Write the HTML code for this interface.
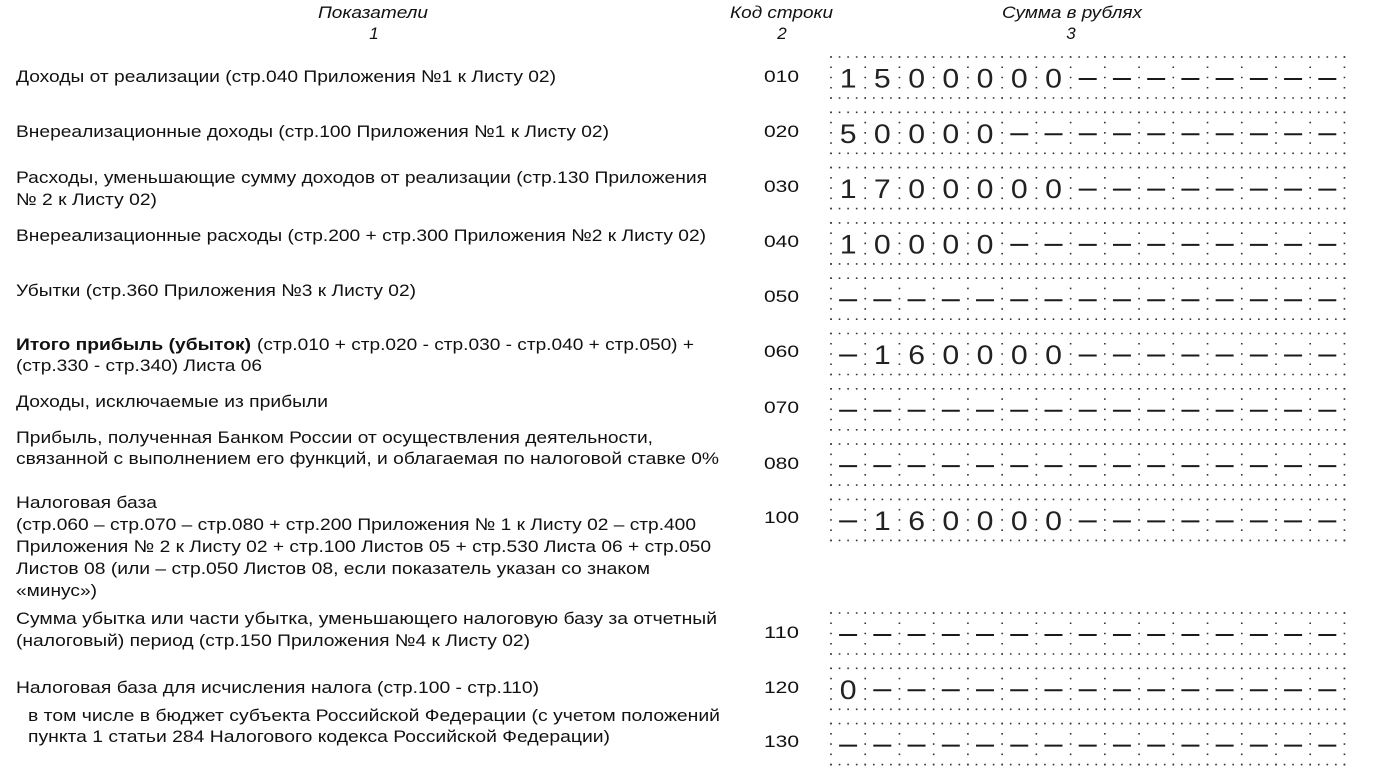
<!DOCTYPE html>
<html>
<head>
<meta charset="utf-8">
<style>
html,body{margin:0;padding:0;background:#fff;}
svg{display:block;}
.t{font-family:"Liberation Sans",Arial,sans-serif;font-size:17px;fill:#111;}
.h{font-family:"Liberation Sans",Arial,sans-serif;font-size:17px;font-style:italic;fill:#111;}
.c{font-family:"Liberation Sans",Arial,sans-serif;font-size:17px;fill:#111;}
.d{font-family:"Liberation Sans",Arial,sans-serif;font-size:27px;fill:#222;}
</style>
</head>
<body>
<svg width="1400" height="768" viewBox="0 0 1400 768" xmlns="http://www.w3.org/2000/svg">
<rect width="1400" height="768" fill="#fff"/>
<defs>
<g id="box">
<path d="M-0.8 0 H514.2 M-0.8 41 H514.2" stroke="#333" stroke-width="1.6" stroke-dasharray="1.6 6.957" fill="none"/>
<path d="M0 -0.8 V41.8 M34.23 -0.8 V41.8 M68.46 -0.8 V41.8 M102.69 -0.8 V41.8 M136.92 -0.8 V41.8 M171.15 -0.8 V41.8 M205.38 -0.8 V41.8 M239.61 -0.8 V41.8 M273.84 -0.8 V41.8 M308.07 -0.8 V41.8 M342.3 -0.8 V41.8 M376.53 -0.8 V41.8 M410.76 -0.8 V41.8 M444.99 -0.8 V41.8 M479.22 -0.8 V41.8 M513.45 -0.8 V41.8" stroke="#333" stroke-width="1.6" stroke-dasharray="1.6 8.65" fill="none"/>
</g>
</defs>

<!-- Header -->
<text class="h" x="318" y="18" textLength="110" lengthAdjust="spacingAndGlyphs">Показатели</text>
<text class="h" x="374" y="39" text-anchor="middle">1</text>
<text class="h" x="730" y="18" textLength="103" lengthAdjust="spacingAndGlyphs">Код строки</text>
<text class="h" x="782" y="39" text-anchor="middle">2</text>
<text class="h" x="1002" y="18" textLength="140" lengthAdjust="spacingAndGlyphs">Сумма в рублях</text>
<text class="h" x="1071" y="39" text-anchor="middle">3</text>

<!-- Left column text -->
<text class="t" x="16" y="82" textLength="540" lengthAdjust="spacingAndGlyphs">Доходы от реализации (стр.040 Приложения №1 к Листу 02)</text>
<text class="t" x="16" y="137" textLength="593" lengthAdjust="spacingAndGlyphs">Внереализационные доходы (стр.100 Приложения №1 к Листу 02)</text>
<text class="t" x="16" y="183" textLength="691" lengthAdjust="spacingAndGlyphs">Расходы, уменьшающие сумму доходов от реализации (стр.130 Приложения</text>
<text class="t" x="16" y="205" textLength="141" lengthAdjust="spacingAndGlyphs">№ 2 к Листу 02)</text>
<text class="t" x="16" y="241" textLength="690" lengthAdjust="spacingAndGlyphs">Внереализационные расходы (стр.200 + стр.300 Приложения №2 к Листу 02)</text>
<text class="t" x="16" y="296" textLength="400" lengthAdjust="spacingAndGlyphs">Убытки (стр.360 Приложения №3 к Листу 02)</text>
<text class="t" x="16" y="350" textLength="235" lengthAdjust="spacingAndGlyphs" font-weight="bold">Итого прибыль (убыток)</text>
<text class="t" x="257" y="350" textLength="437" lengthAdjust="spacingAndGlyphs">(стр.010 + стр.020 - стр.030 - стр.040 + стр.050) +</text>
<text class="t" x="16" y="371" textLength="246" lengthAdjust="spacingAndGlyphs">(стр.330 - стр.340) Листа 06</text>
<text class="t" x="16" y="407" textLength="312" lengthAdjust="spacingAndGlyphs">Доходы, исключаемые из прибыли</text>
<text class="t" x="16" y="443" textLength="637" lengthAdjust="spacingAndGlyphs">Прибыль, полученная Банком России от осуществления деятельности,</text>
<text class="t" x="16" y="464" textLength="703" lengthAdjust="spacingAndGlyphs">связанной с выполнением его функций, и облагаемая по налоговой ставке 0%</text>
<text class="t" x="16" y="508" textLength="141" lengthAdjust="spacingAndGlyphs">Налоговая база</text>
<text class="t" x="16" y="530" textLength="680" lengthAdjust="spacingAndGlyphs">(стр.060 – стр.070 – стр.080 + стр.200 Приложения № 1 к Листу 02 – стр.400</text>
<text class="t" x="16" y="552" textLength="695" lengthAdjust="spacingAndGlyphs">Приложения № 2 к Листу 02 + стр.100 Листов 05 + стр.530 Листа 06 + стр.050</text>
<text class="t" x="16" y="574" textLength="634" lengthAdjust="spacingAndGlyphs">Листов 08 (или – стр.050 Листов 08, если показатель указан со знаком</text>
<text class="t" x="16" y="596" textLength="81" lengthAdjust="spacingAndGlyphs">«минус»)</text>
<text class="t" x="16" y="624" textLength="701" lengthAdjust="spacingAndGlyphs">Сумма убытка или части убытка, уменьшающего налоговую базу за отчетный</text>
<text class="t" x="16" y="646" textLength="514" lengthAdjust="spacingAndGlyphs">(налоговый) период (стр.150 Приложения №4 к Листу 02)</text>
<text class="t" x="16" y="693" textLength="523" lengthAdjust="spacingAndGlyphs">Налоговая база для исчисления налога (стр.100 - стр.110)</text>
<text class="t" x="28" y="721" textLength="692" lengthAdjust="spacingAndGlyphs">в том числе в бюджет субъекта Российской Федерации (с учетом положений</text>
<text class="t" x="28" y="742" textLength="582" lengthAdjust="spacingAndGlyphs">пункта 1 статьи 284 Налогового кодекса Российской Федерации)</text>

<!-- Codes -->
<text class="c" x="764" y="82" textLength="35" lengthAdjust="spacingAndGlyphs">010</text>
<text class="c" x="764" y="137" textLength="35" lengthAdjust="spacingAndGlyphs">020</text>
<text class="c" x="764" y="192" textLength="35" lengthAdjust="spacingAndGlyphs">030</text>
<text class="c" x="764" y="247" textLength="35" lengthAdjust="spacingAndGlyphs">040</text>
<text class="c" x="764" y="302" textLength="35" lengthAdjust="spacingAndGlyphs">050</text>
<text class="c" x="764" y="357" textLength="35" lengthAdjust="spacingAndGlyphs">060</text>
<text class="c" x="764" y="413" textLength="35" lengthAdjust="spacingAndGlyphs">070</text>
<text class="c" x="764" y="469" textLength="35" lengthAdjust="spacingAndGlyphs">080</text>
<text class="c" x="764" y="523" textLength="35" lengthAdjust="spacingAndGlyphs">100</text>
<text class="c" x="764" y="638" textLength="35" lengthAdjust="spacingAndGlyphs">110</text>
<text class="c" x="764" y="693" textLength="35" lengthAdjust="spacingAndGlyphs">120</text>
<text class="c" x="764" y="747" textLength="35" lengthAdjust="spacingAndGlyphs">130</text>

<!-- Boxes -->
<use href="#box" x="831" y="57"/>
<use href="#box" x="831" y="112.3"/>
<use href="#box" x="831" y="167.6"/>
<use href="#box" x="831" y="222.9"/>
<use href="#box" x="831" y="278.2"/>
<use href="#box" x="831" y="333.5"/>
<use href="#box" x="831" y="388.8"/>
<use href="#box" x="831" y="444.1"/>
<use href="#box" x="831" y="499.4"/>
<use href="#box" x="831" y="613"/>
<use href="#box" x="831" y="668.3"/>
<use href="#box" x="831" y="723.6"/>

<g class="d" text-anchor="middle">
<!-- Row 010: 1500000 -->
<text transform="translate(848.1,87.5) scale(1.12,1)">1</text>
<text transform="translate(882.3,87.5) scale(1.12,1)">5</text>
<text transform="translate(916.6,87.5) scale(1.12,1)">0</text>
<text transform="translate(950.8,87.5) scale(1.12,1)">0</text>
<text transform="translate(985.0,87.5) scale(1.12,1)">0</text>
<text transform="translate(1019.3,87.5) scale(1.12,1)">0</text>
<text transform="translate(1053.5,87.5) scale(1.12,1)">0</text>
<!-- Row 020: 50000 -->
<text transform="translate(848.1,142.8) scale(1.12,1)">5</text>
<text transform="translate(882.3,142.8) scale(1.12,1)">0</text>
<text transform="translate(916.6,142.8) scale(1.12,1)">0</text>
<text transform="translate(950.8,142.8) scale(1.12,1)">0</text>
<text transform="translate(985.0,142.8) scale(1.12,1)">0</text>
<!-- Row 030: 1700000 -->
<text transform="translate(848.1,198.1) scale(1.12,1)">1</text>
<text transform="translate(882.3,198.1) scale(1.12,1)">7</text>
<text transform="translate(916.6,198.1) scale(1.12,1)">0</text>
<text transform="translate(950.8,198.1) scale(1.12,1)">0</text>
<text transform="translate(985.0,198.1) scale(1.12,1)">0</text>
<text transform="translate(1019.3,198.1) scale(1.12,1)">0</text>
<text transform="translate(1053.5,198.1) scale(1.12,1)">0</text>
<!-- Row 040: 10000 -->
<text transform="translate(848.1,253.4) scale(1.12,1)">1</text>
<text transform="translate(882.3,253.4) scale(1.12,1)">0</text>
<text transform="translate(916.6,253.4) scale(1.12,1)">0</text>
<text transform="translate(950.8,253.4) scale(1.12,1)">0</text>
<text transform="translate(985.0,253.4) scale(1.12,1)">0</text>
<!-- Row 060: -160000 -->
<text transform="translate(882.3,364) scale(1.12,1)">1</text>
<text transform="translate(916.6,364) scale(1.12,1)">6</text>
<text transform="translate(950.8,364) scale(1.12,1)">0</text>
<text transform="translate(985.0,364) scale(1.12,1)">0</text>
<text transform="translate(1019.3,364) scale(1.12,1)">0</text>
<text transform="translate(1053.5,364) scale(1.12,1)">0</text>
<!-- Row 100: -160000 -->
<text transform="translate(882.3,529.9) scale(1.12,1)">1</text>
<text transform="translate(916.6,529.9) scale(1.12,1)">6</text>
<text transform="translate(950.8,529.9) scale(1.12,1)">0</text>
<text transform="translate(985.0,529.9) scale(1.12,1)">0</text>
<text transform="translate(1019.3,529.9) scale(1.12,1)">0</text>
<text transform="translate(1053.5,529.9) scale(1.12,1)">0</text>
<!-- Row 120: 0 -->
<text transform="translate(848.1,698.8) scale(1.12,1)">0</text>
</g>

<!-- Dashes (18px wide, period 34.23) -->
<g stroke="#1a1a1a" stroke-width="2" stroke-dasharray="18 16.23" fill="none">
<path d="M1078.7 79 H1336.3"/>
<path d="M1010.3 134.3 H1336.3"/>
<path d="M1078.7 189.6 H1336.3"/>
<path d="M1010.3 244.9 H1336.3"/>
<path d="M839.1 300.2 H1336.3"/>
<path d="M839.1 355.5 H857.1"/>
<path d="M1078.7 355.5 H1336.3"/>
<path d="M839.1 410.8 H1336.3"/>
<path d="M839.1 466.1 H1336.3"/>
<path d="M839.1 521.4 H857.1"/>
<path d="M1078.7 521.4 H1336.3"/>
<path d="M839.1 635 H1336.3"/>
<path d="M873.3 690.3 H1336.3"/>
<path d="M839.1 745.6 H1336.3"/>
</g>
</svg>
</body>
</html>
